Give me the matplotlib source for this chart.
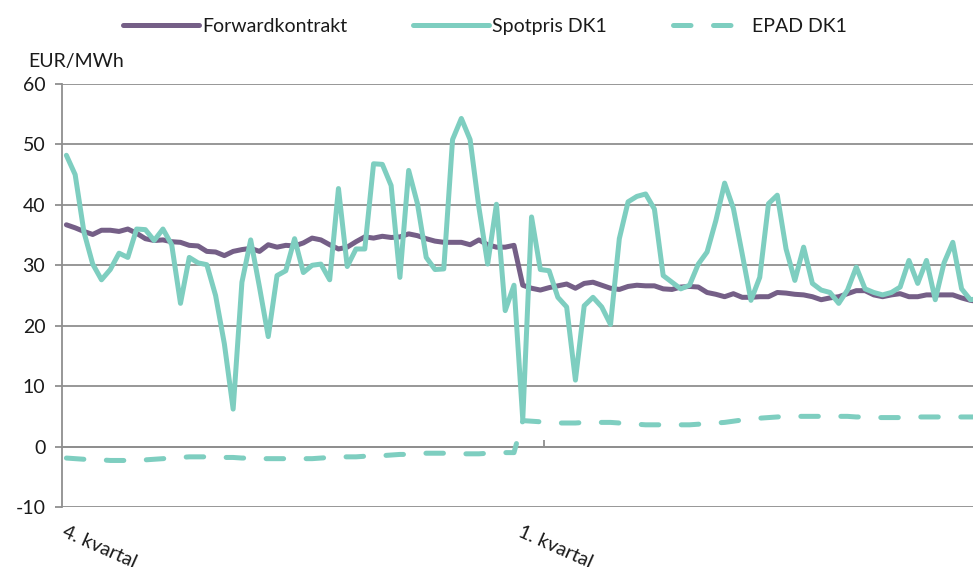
import matplotlib
matplotlib.use("Agg")
import matplotlib.pyplot as plt
import numpy as np

plt.rcParams["font.family"] = ["Lato", "DejaVu Sans"]
plt.rcParams["axes.unicode_minus"] = False

# daily values, Q4 followed by Q1 (EUR/MWh)
forward = [
    36.7, 36.2, 35.6, 35.1, 35.8, 35.8, 35.6, 36.0, 35.3, 34.4,
    34.1, 34.2, 33.9, 33.8, 33.3, 33.2, 32.3, 32.2, 31.6, 32.3,
    32.6, 32.8, 32.3, 33.4, 33.0, 33.3, 33.2, 33.7, 34.5, 34.2,
    33.4, 32.7, 33.0, 33.9, 34.7, 34.5, 34.8, 34.6, 34.7, 35.2,
    34.9, 34.4, 34.0, 33.8, 33.8, 33.8, 33.4, 34.2, 33.4, 33.0,
    33.0, 33.3, 26.7, 26.2, 25.9, 26.3, 26.6, 26.9, 26.2, 27.0,
    27.2, 26.7, 26.2, 26.0, 26.5, 26.7, 26.6, 26.6, 26.1, 26.0,
    26.4, 26.5, 26.4, 25.5, 25.2, 24.8, 25.3, 24.7, 24.7, 24.8,
    24.8, 25.5, 25.4, 25.2, 25.1, 24.8, 24.3, 24.6, 24.8, 25.3,
    25.8, 25.8, 25.1, 24.8, 25.1, 25.3, 24.8, 24.8, 25.1, 25.1,
    25.1, 25.1, 24.6, 24.2, 24.0,
]
spot = [
    48.2, 45.0, 35.5, 30.2, 27.6, 29.3, 32.0, 31.3, 36.0, 35.9,
    34.1, 36.0, 33.4, 23.7, 31.3, 30.4, 30.1, 25.0, 17.0, 6.2,
    27.2, 34.2, 26.4, 18.2, 28.3, 29.1, 34.4, 28.8, 30.0, 30.2,
    27.6, 42.7, 29.8, 32.7, 32.7, 46.8, 46.7, 43.2, 28.0, 45.7,
    40.2, 31.3, 29.3, 29.4, 50.8, 54.3, 50.8, 39.6, 30.2, 40.1,
    22.5, 26.7, 4.5, 38.0, 29.3, 29.1, 24.7, 23.1, 11.0, 23.3,
    24.7, 23.1, 20.2, 34.4, 40.5, 41.4, 41.8, 39.3, 28.3, 27.2,
    26.1, 26.7, 30.2, 32.2, 37.4, 43.6, 39.4, 31.9, 24.2, 28.0,
    40.2, 41.6, 32.7, 27.5, 33.0, 27.0, 25.9, 25.5, 23.7, 25.9,
    29.7, 26.1, 25.5, 25.1, 25.5, 26.4, 30.8, 27.0, 30.8, 24.3,
    30.4, 33.8, 26.1, 24.3, 24.5,
]
epad = [
    -1.9, -2.0, -2.1, -2.2, -2.2, -2.3, -2.3, -2.3, -2.2, -2.2,
    -2.1, -2.0, -1.9, -1.8, -1.7, -1.7, -1.7, -1.8, -1.8, -1.8,
    -1.9, -1.9, -2.0, -2.0, -2.0, -2.0, -2.0, -2.0, -2.0, -1.9,
    -1.8, -1.7, -1.7, -1.7, -1.6, -1.5, -1.5, -1.4, -1.3, -1.3,
    -1.2, -1.1, -1.1, -1.1, -1.1, -1.2, -1.2, -1.2, -1.1, -1.0,
    -1.0, -1.0, 4.3, 4.2, 4.1, 4.0, 3.9, 3.9, 3.9, 4.0,
    4.0, 4.0, 4.0, 3.9, 3.8, 3.7, 3.6, 3.6, 3.6, 3.6,
    3.6, 3.6, 3.7, 3.8, 3.9, 4.0, 4.2, 4.4, 4.5, 4.7,
    4.8, 4.9, 5.0, 5.0, 5.0, 5.0, 5.0, 5.0, 5.0, 5.0,
    4.9, 4.9, 4.8, 4.8, 4.8, 4.8, 4.9, 4.9, 4.9, 4.9,
    4.9, 4.9, 4.9, 4.9, 4.9,
]
quarter_labels = ["4. kvartal", "1. kvartal"]
quarter_starts = [0, 52]

PURPLE = "#755f87"
TEAL = "#7ecec0"
GRID = "#8f8f8f"
TXT = "#1a1a1a"
LW = 3.6


def main() -> None:
    fig = plt.figure(figsize=(9.73, 5.67), dpi=100)
    ax = fig.add_axes([62 / 973, 1 - 507 / 567, 1 - 62 / 973, (507 - 84) / 567])
    x = np.arange(len(spot))

    ax.plot(x, forward, color=PURPLE, lw=LW, solid_capstyle="round",
            solid_joinstyle="round", label="Forwardkontrakt", zorder=3)
    ax.plot(x, spot, color=TEAL, lw=LW, solid_capstyle="round",
            solid_joinstyle="round", label="Spotpris DK1", zorder=4)
    (ep,) = ax.plot(x, epad, color=TEAL, lw=LW, dash_capstyle="round",
                    label="EPAD DK1", zorder=4)
    ep.set_dashes((3.5, 4.5))

    ax.set_xlim(-0.5, 103.3)
    ax.set_ylim(-10, 60)
    ax.set_yticks(range(-10, 61, 10))
    ax.yaxis.grid(True, color=GRID, lw=1.3)
    ax.set_axisbelow(True)
    for s in ("top", "right"):
        ax.spines[s].set_visible(False)
    ax.spines["left"].set_color(GRID)
    ax.spines["left"].set_linewidth(1.3)
    ax.spines["bottom"].set_position(("data", 0))
    ax.spines["bottom"].set_color(GRID)
    ax.spines["bottom"].set_linewidth(1.3)
    ax.tick_params(axis="y", length=5, width=1.3, color=GRID, pad=7,
                   labelsize=14, labelcolor=TXT)
    ax.set_xticks([54.4])
    ax.set_xticklabels([""])
    ax.tick_params(axis="x", direction="in", length=5, width=1.3, color=GRID)

    for pos, lab in zip(quarter_starts, quarter_labels):
        ax.annotate(lab, xy=(pos, 0), xycoords=("data", "axes fraction"),
                    xytext=(0, -16), textcoords="offset pixels",
                    rotation=-24, rotation_mode="anchor", ha="left", va="top",
                    fontsize=14, color=TXT, annotation_clip=False)

    fig.text(28 / 973, 1 - 62 / 567, "EUR/MWh", fontsize=14, color=TXT,
             ha="left", va="center")
    fig.legend(loc="center", bbox_to_anchor=(0.4985, 0.954), ncol=3,
               frameon=False, fontsize=14, handlelength=3.9,
               handletextpad=0.15, columnspacing=3.4, labelcolor=TXT)

    fig.savefig("out.png", dpi=100)
    plt.close(fig)


if __name__ == "__main__":
    main()
